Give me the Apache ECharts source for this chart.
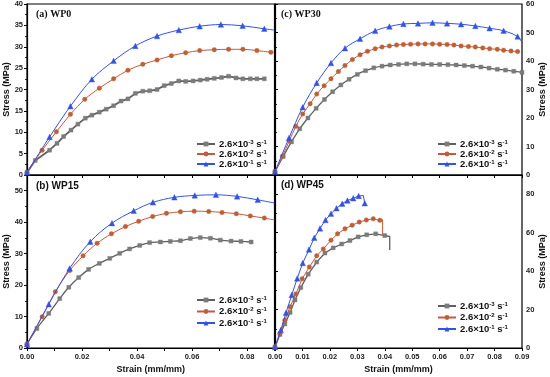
<!DOCTYPE html>
<html><head><meta charset="utf-8">
<script src="https://cdn.jsdelivr.net/npm/echarts@6/dist/echarts.min.js"></script>
<style>html,body{margin:0;padding:0;background:#fff}#c{width:550px;height:377px}</style>
</head><body><div id="c"></div>
<script>
// ---------- DATA ----------
const rateNames = ['2.6×10-3 s-1', '2.6×10-2 s-1', '2.6×10-1 s-1'];
const panelTitles = ['(a) WP0', '(c) WP30', '(b) WP15', '(d) WP45'];

// (a) WP0
const a_gray_x = [0, 0.003, 0.0082, 0.0109, 0.0133, 0.016, 0.0185, 0.0212, 0.0236, 0.0263, 0.0288, 0.0315, 0.0342, 0.0367, 0.0394, 0.0421, 0.0446, 0.0473, 0.0499, 0.0525, 0.0552, 0.0577, 0.0604, 0.063, 0.0655, 0.0681, 0.0707, 0.0733, 0.076, 0.0785, 0.0812, 0.0836, 0.0863];
const a_gray_y = [0.6, 3.4, 5.8, 7.4, 9.0, 10.5, 11.9, 13.3, 14.0, 14.7, 15.4, 16.2, 17.3, 17.8, 19.1, 19.6, 19.7, 20.0, 20.9, 21.4, 22.0, 21.9, 22.0, 22.2, 22.4, 22.6, 22.8, 23.1, 22.7, 22.5, 22.5, 22.5, 22.5];
const a_red_x = [0, 0.0055, 0.0107, 0.0158, 0.021, 0.0263, 0.0315, 0.0367, 0.0421, 0.0473, 0.0525, 0.0577, 0.0628, 0.0681, 0.0733, 0.0785, 0.0836, 0.0887];
const a_red_y = [0.6, 5.8, 10.1, 14.2, 17.7, 20.3, 22.5, 24.5, 25.9, 26.9, 27.9, 28.6, 29.1, 29.3, 29.4, 29.4, 29.1, 28.7];
const a_blue_x = [0, 0.0082, 0.0158, 0.0236, 0.0315, 0.0394, 0.0473, 0.0552, 0.0628, 0.0705, 0.0784, 0.0863, 0.09];
const a_blue_y = [0.6, 8.9, 16.1, 22.4, 26.7, 30.2, 32.5, 33.9, 34.8, 35.2, 34.9, 34.2, 33.9];

// (b) WP15
const b_gray_x = [0, 0.0036, 0.0079, 0.0119, 0.0152, 0.0188, 0.0224, 0.0263, 0.0301, 0.0337, 0.0373, 0.041, 0.0446, 0.0485, 0.0521, 0.0558, 0.0594, 0.063, 0.0667, 0.0703, 0.0742, 0.0778, 0.0815];
const b_gray_y = [1.2, 6.2, 11.0, 15.7, 19.3, 22.4, 25.0, 26.9, 28.5, 30.1, 31.5, 32.6, 33.5, 33.7, 33.9, 34.1, 34.8, 35.1, 34.9, 34.3, 34.0, 33.9, 33.7];
const b_red_x = [0, 0.0055, 0.0103, 0.0155, 0.0204, 0.0255, 0.0307, 0.0358, 0.0406, 0.0457, 0.0507, 0.0558, 0.0608, 0.0661, 0.0709, 0.0761, 0.0812, 0.0863, 0.09];
const b_red_y = [1.2, 9.9, 17.9, 24.6, 29.3, 33.3, 36.3, 38.6, 40.3, 41.8, 42.8, 43.3, 43.5, 43.4, 43.1, 42.7, 42.0, 41.3, 40.7];
const b_blue_x = [0, 0.0079, 0.0155, 0.023, 0.0309, 0.0388, 0.0458, 0.0536, 0.061, 0.0687, 0.0764, 0.0839, 0.09];
const b_blue_y = [1.2, 13.9, 25.3, 33.8, 39.7, 43.6, 46.3, 47.9, 48.5, 48.7, 48.2, 47.1, 46.1];

// (c) WP30
const c_gray_x = [0, 0.003, 0.006, 0.009, 0.012, 0.015, 0.018, 0.021, 0.024, 0.027, 0.030, 0.033, 0.036, 0.039, 0.042, 0.045, 0.048, 0.051, 0.054, 0.057, 0.060, 0.063, 0.066, 0.069, 0.072, 0.075, 0.078, 0.081, 0.084, 0.087, 0.09];
const c_gray_y = [1.2, 6.5, 11.6, 16.2, 20.0, 23.4, 26.5, 29.2, 31.6, 33.6, 35.3, 36.6, 37.6, 38.2, 38.6, 38.8, 39.0, 39.0, 38.9, 38.8, 38.8, 38.7, 38.6, 38.4, 38.2, 37.9, 37.5, 37.1, 36.8, 36.4, 36.0];
const c_red_x = [0, 0.0027, 0.0052, 0.0076, 0.0101, 0.0128, 0.0152, 0.0179, 0.0204, 0.0231, 0.0255, 0.0282, 0.031, 0.0337, 0.0365, 0.039, 0.0417, 0.0443, 0.0468, 0.0494, 0.0521, 0.0547, 0.0574, 0.06, 0.0627, 0.0652, 0.0678, 0.0705, 0.073, 0.0757, 0.0782, 0.081, 0.0833, 0.086, 0.0884];
const c_red_y = [1.2, 6.6, 12.0, 17.1, 21.4, 25.0, 28.4, 31.3, 33.8, 36.3, 38.4, 40.5, 42.2, 43.4, 44.3, 44.9, 45.3, 45.6, 45.8, 45.9, 46.0, 46.0, 46.0, 45.9, 45.8, 45.6, 45.3, 45.1, 44.9, 44.6, 44.3, 44.1, 43.8, 43.5, 43.3];
const c_blue_x = [0, 0.0051, 0.0101, 0.0152, 0.0204, 0.0255, 0.031, 0.0365, 0.0417, 0.0468, 0.0521, 0.0574, 0.0627, 0.0678, 0.073, 0.0782, 0.0833, 0.0884, 0.09];
const c_blue_y = [1.2, 13.0, 23.8, 32.3, 39.3, 44.5, 47.8, 50.6, 52.1, 53.0, 53.2, 53.4, 53.2, 52.9, 52.3, 51.5, 50.6, 48.6, 46.5];

// (d) WP45
const d_gray_x = [0, 0.0018, 0.0036, 0.0055, 0.0073, 0.0094, 0.0121, 0.0152, 0.0182, 0.0212, 0.0243, 0.0273, 0.0303, 0.0334, 0.0367, 0.0400, 0.0418, 0.0418];
const d_gray_y = [0.5, 7.0, 12.5, 18.5, 25.0, 31.4, 38.4, 44.7, 49.4, 52.1, 54.1, 55.9, 57.8, 58.9, 59.4, 58.5, 58.0, 51.0];
const d_red_x = [0, 0.0018, 0.0036, 0.0055, 0.0076, 0.0099, 0.0125, 0.0152, 0.0176, 0.0204, 0.0228, 0.0255, 0.0281, 0.0307, 0.0333, 0.0358, 0.0382, 0.0392, 0.0392];
const d_red_y = [0.5, 7.5, 14.5, 21.5, 28.1, 36.0, 42.1, 48.0, 51.5, 56.1, 59.4, 62.0, 63.9, 65.5, 66.6, 67.2, 66.4, 66.8, 59.0];
const d_blue_x = [0, 0.0021, 0.004, 0.0061, 0.0081, 0.0101, 0.0124, 0.0143, 0.0164, 0.0184, 0.0204, 0.0224, 0.0245, 0.0264, 0.0285, 0.0305, 0.0322, 0.0327];
const d_blue_y = [0.5, 9.3, 18.3, 27.6, 36.2, 44.2, 51.2, 57.3, 62.2, 66.6, 69.9, 72.7, 75.1, 76.7, 77.9, 79.1, 79.3, 75.3];

// number of trailing points drawn as line only (no marker)
const d_gray_tail = 2, d_red_tail = 2;

// axis ranges/ticks
const xTicks = {min: 0, max: 0.09, interval: 0.01};
const yRanges = [ {max: 40, interval: 5}, {max: 60, interval: 10}, {max: 55, interval: 10}, {max: 90, interval: 20} ];

// ---------- CHART ----------
const COLORS = {gray: '#5f5f5f', red: '#c9573f', blue: '#3153e6'};
const MARK = {gray: {symbol: 'rect', size: 4, fill: '#7b7b7b'}, red: {symbol: 'circle', size: 4.5, fill: '#bd6038'}, blue: {symbol: 'triangle', size: 5.5, fill: '#3452e0'}};
const LW = {gray: 1.3, red: 1, blue: 1};
const FONT = '"Liberation Sans", Arial, sans-serif';

const grids = [
  {left: 27, top: 4, width: 247.5, height: 171},
  {left: 275, top: 4, width: 247, height: 171},
  {left: 27, top: 175, width: 247.5, height: 173},
  {left: 275, top: 175, width: 247, height: 173}
].map(g => Object.assign(g, {show: true, borderColor: '#000', borderWidth: 1.2, containLabel: false}));

function zip(xs, ys, tail) {
  return xs.map((x, i) => {
    if (tail && i >= xs.length - tail) return {value: [x, ys[i]], symbol: 'none'};
    return [x, ys[i]];
  });
}

const panels = [
  {g: [[a_gray_x, a_gray_y, 0, false], [a_red_x, a_red_y, 0, true], [a_blue_x, a_blue_y, 1, true]]},
  {g: [[c_gray_x, c_gray_y, 0, true], [c_red_x, c_red_y, 0, true], [c_blue_x, c_blue_y, 1, true]]},
  {g: [[b_gray_x, b_gray_y, 0, true], [b_red_x, b_red_y, 1, true], [b_blue_x, b_blue_y, 1, true]]},
  {g: [[d_gray_x, d_gray_y, d_gray_tail, false], [d_red_x, d_red_y, d_red_tail, false], [d_blue_x, d_blue_y, 0, false]]}
];
const keys = ['gray', 'red', 'blue'];

const series = [];
panels.forEach((p, pi) => {
  p.g.forEach((s, si) => {
    const k = keys[si];
    let data = zip(s[0], s[1], s[2]);
    if (pi === 3 && k === 'blue') data[16] = {value: data[16], symbol: 'none'};
    series.push({
      name: rateNames[si], type: 'line', xAxisIndex: pi, yAxisIndex: pi,
      data: data, smooth: s[3] ? 0.35 : false, symbol: MARK[k].symbol, symbolSize: MARK[k].size,
      showAllSymbol: true, z: 2 + si,
      lineStyle: {color: COLORS[k], width: (pi === 0 && k === 'gray') ? 1.8 : LW[k]},
      itemStyle: {color: MARK[k].fill, borderColor: MARK[k].fill, borderWidth: 0.4},
      emphasis: {disabled: true}, animation: false
    });
  });
});

const axisLine = {show: true, lineStyle: {color: '#000', width: 1.2}};
const labelStyle = {fontFamily: FONT, fontWeight: 'bold', fontSize: 7.5, color: '#222'};

const xAxis = grids.map((g, i) => ({
  type: 'value', gridIndex: i, min: xTicks.min, max: xTicks.max, interval: xTicks.interval,
  axisLine: axisLine, splitLine: {show: false},
  axisTick: {show: true, inside: false, length: 3, lineStyle: {color: '#000', width: 1}},
  axisLabel: {show: i >= 2, margin: 5, ...labelStyle,
    formatter: v => { const n = Math.round(v * 100); if (i === 2 && n % 2 !== 0) return ''; return v.toFixed(2); }},
  name: i >= 2 ? 'Strain (mm/mm)' : '', nameLocation: 'middle', nameGap: 17,
  nameTextStyle: {fontFamily: FONT, fontWeight: 'bold', fontSize: 9, color: '#111'}
}));

const yAxis = grids.map((g, i) => ({
  type: 'value', gridIndex: i, min: 0, max: yRanges[i].max, interval: yRanges[i].interval,
  position: (i % 2 === 0) ? 'left' : 'right',
  axisLine: axisLine, splitLine: {show: false},
  axisTick: {show: true, inside: false, length: 3, lineStyle: {color: '#000', width: 1}},
  minorTick: {show: true, splitNumber: 2, length: 2, lineStyle: {color: '#000', width: 0.8}},
  axisLabel: {show: true, margin: 4, showMaxLabel: (yRanges[i].max % yRanges[i].interval === 0), ...labelStyle},
  name: 'Stress (MPa)', nameLocation: 'middle', nameGap: 15, nameRotate: 90,
  nameTextStyle: {fontFamily: FONT, fontWeight: 'bold', fontSize: 9, color: '#111'}
}));

const legendPos = [
  {left: 196, top: 139, itemGap: 0},
  {left: 437, top: 139, itemGap: 0},
  {left: 196, top: 295, itemGap: 1.5},
  {left: 437, top: 301, itemGap: 1.5}
];
const legendRich = {
  b: {fontFamily: FONT, fontWeight: 'bold', fontSize: 9.5, color: '#111', lineHeight: 10},
  s: {fontFamily: FONT, fontWeight: 'bold', fontSize: 6, color: '#111', verticalAlign: 'top', lineHeight: 10, padding: [0, 0, 4, 0]}
};
function fmtLegend(name) {
  const m = name.match(/^2\.6×10(-\d) s(-1)$/);
  return '{b|2.6×10}{s|' + m[1] + '}{b| s}{s|' + m[2] + '}';
}
const legend = legendPos.map(p => ({
  orient: 'vertical', left: p.left, top: p.top, itemGap: p.itemGap, itemWidth: 18, itemHeight: 6,
  padding: 0, selectedMode: false, formatter: fmtLegend,
  data: rateNames.map(n => ({name: n, itemStyle: {borderWidth: 0}})),
  textStyle: {rich: legendRich, padding: [0, 0, 0, -1]}
}));

const titlePos = [
  {left: 36, top: 9, serif: true},
  {left: 281, top: 9, serif: true},
  {left: 36, top: 181, serif: false},
  {left: 281, top: 180, serif: false}
];
const title = panelTitles.map((t, i) => ({
  text: t, left: titlePos[i].left, top: titlePos[i].top, padding: 0,
  textStyle: {fontFamily: titlePos[i].serif ? '"Liberation Serif", "Times New Roman", serif' : FONT,
    fontWeight: 'bold', fontSize: 10, color: '#111'}
}));

const chart = echarts.init(document.getElementById('c'), null, {renderer: 'canvas'});
chart.setOption({animation: false, backgroundColor: '#fff', title, legend, grid: grids, xAxis, yAxis, series});
</script></body></html>
